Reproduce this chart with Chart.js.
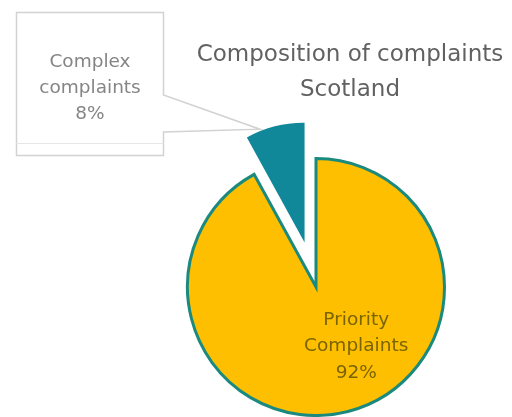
<!DOCTYPE html>
<html lang="en">
<head>
  <meta charset="UTF-8" />
  <title>Composition of complaints Scotland</title>
  <script src="https://cdn.jsdelivr.net/npm/chart.js"></script>
  <style>
    body {
      margin: 0;
      background: #ffffff;
    }
    .wrap {
      position: relative;
      width: 512px;
      height: 417px;
    }
    #complaintsChart {
      display: block;
    }
    /* two line heading, sits to the right of the callout box */
    .chart-title {
      position: absolute;
      left: 190px;
      width: 320px;
      top: 36px;
      text-align: center;
      font-family: 'DejaVu Sans', Verdana, sans-serif;
      font-size: 23px;
      line-height: 35px;
      color: #616161;
    }
  </style>
</head>
<body>
<div class="wrap">
  <canvas id="complaintsChart" width="512" height="417"></canvas>
  <div class="chart-title">Composition of complaints<br>Scotland</div>
</div>

<script>
  // Chart data
  const categories = ['Priority Complaints', 'Complex complaints'];
  const shares = [92, 8];

  // Slice styling
  const sliceColours = ['#FDBF00', '#11889A'];
  const sliceBorders = ['#1B8A7E', '#11889A'];
  const slicePull = [0, 52];        // px the slice is pulled out from the centre
  const sliceRadius = [1, 0.875];   // radius relative to the whole pie

  // Callout box for the small slice (top left)
  const box = { left: 16.5, top: 12.5, right: 163.5, bottom: 155.5, mouthTop: 95, mouthBottom: 132 };

  const labelFont = "18.5px 'DejaVu Sans', Verdana, sans-serif";

  function labelLines(i) {
    return categories[i].split(' ').concat(shares[i] + '%');
  }

  // pulls the complex slice out and shrinks it a little
  const explodePlugin = {
    id: 'explodeSlice',
    afterDatasetUpdate(chart, args) {
      args.meta.data.forEach((arc, i) => {
        const mid = (arc.startAngle + arc.endAngle) / 2;
        arc.x += Math.cos(mid) * slicePull[i];
        arc.y += Math.sin(mid) * slicePull[i];
        arc.outerRadius *= sliceRadius[i];
      });
    }
  };

  // callout outline with its pointer running to the small slice
  const calloutPlugin = {
    id: 'callout',
    beforeDatasetsDraw(chart) {
      const ctx = chart.ctx;
      const arc = chart.getDatasetMeta(0).data[1];
      const a = arc.startAngle + (arc.endAngle - arc.startAngle) * 0.24;
      const tipX = arc.x + Math.cos(a) * arc.outerRadius * 1.03;
      const tipY = arc.y + Math.sin(a) * arc.outerRadius * 1.03;

      ctx.save();
      ctx.strokeStyle = '#d2d2d2';
      ctx.lineWidth = 1.5;
      ctx.beginPath();
      ctx.moveTo(box.left, box.top);
      ctx.lineTo(box.right, box.top);
      ctx.lineTo(box.right, box.mouthTop);
      ctx.lineTo(tipX, tipY);
      ctx.lineTo(box.right, box.mouthBottom);
      ctx.lineTo(box.right, box.bottom);
      ctx.lineTo(box.left, box.bottom);
      ctx.closePath();
      ctx.stroke();

      // faint inner rule near the bottom of the box
      ctx.strokeStyle = '#e6e6e6';
      ctx.lineWidth = 1;
      ctx.beginPath();
      ctx.moveTo(box.left, box.bottom - 12);
      ctx.lineTo(box.right, box.bottom - 12);
      ctx.stroke();
      ctx.restore();
    }
  };

  // data labels: inside the big slice and inside the callout box
  const labelPlugin = {
    id: 'sliceLabels',
    afterDatasetsDraw(chart) {
      const ctx = chart.ctx;
      const big = chart.getDatasetMeta(0).data[0];
      ctx.save();
      ctx.font = labelFont;
      ctx.textAlign = 'center';
      ctx.textBaseline = 'middle';

      // big slice label, placed lower right of the centre
      const ang = 146 * Math.PI / 180;
      const r = big.outerRadius * 0.56;
      const cx = big.x + Math.sin(ang) * r;
      const cy = big.y - Math.cos(ang) * r;
      ctx.fillStyle = '#7A6400';
      labelLines(0).forEach((t, k) => ctx.fillText(t, cx, cy + (k - 1) * 26.5));

      // callout label
      const bx = (box.left + box.right) / 2;
      ctx.fillStyle = '#858585';
      labelLines(1).forEach((t, k) => ctx.fillText(t, bx, 62 + k * 26));
      ctx.restore();
    }
  };

  new Chart(document.getElementById('complaintsChart').getContext('2d'), {
    type: 'pie',
    data: {
      labels: categories,
      datasets: [{
        data: shares,
        backgroundColor: sliceColours,
        borderColor: sliceBorders,
        borderWidth: 3,
        borderJoinStyle: 'miter'
      }]
    },
    options: {
      responsive: false,
      animation: false,
      events: [],
      layout: { padding: { left: 186, right: 66, top: 157, bottom: 0 } },
      plugins: {
        legend: { display: false },
        tooltip: { enabled: false },
        title: { display: false }
      }
    },
    plugins: [explodePlugin, calloutPlugin, labelPlugin]
  });
</script>
</body>
</html>
